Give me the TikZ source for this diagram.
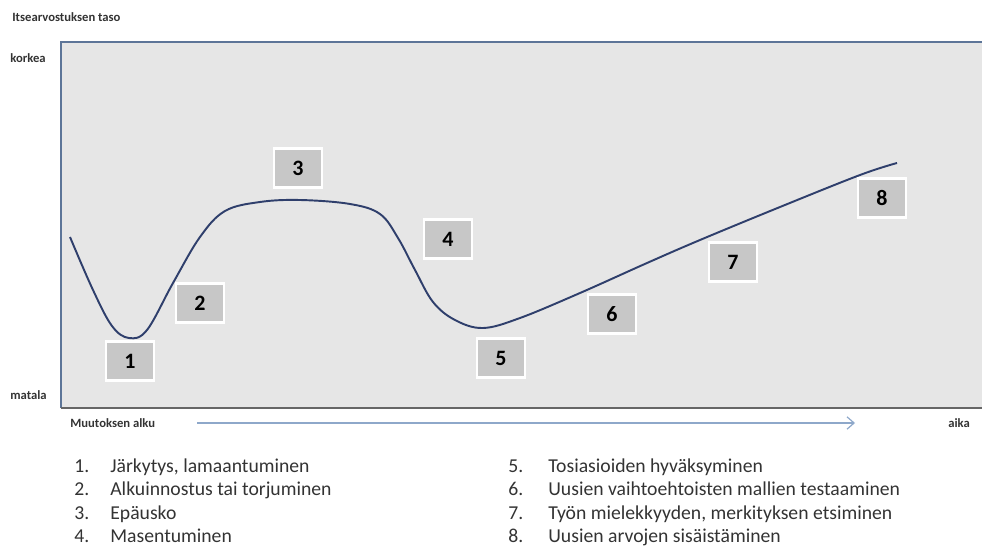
\documentclass[tikz,border=0pt]{standalone}
\usepackage{fontspec}
\setmainfont{Carlito}
\usepackage{xcolor}
\usetikzlibrary{arrows.meta}
\definecolor{panelgray}{HTML}{E6E6E6}
\definecolor{framblue}{HTML}{5D7598}
\definecolor{curveblue}{HTML}{2F3F6C}
\definecolor{boxgray}{HTML}{C7C7C7}
\definecolor{arrowblue}{HTML}{8EA8CA}
\definecolor{textgray}{HTML}{333333}

\begin{document}
\begin{tikzpicture}[x=0.02cm,y=-0.02cm,
    numbox/.style={fill=boxgray, draw=white, line width=1.2pt,
      inner sep=0pt, minimum width=0.96cm, minimum height=0.78cm,
      font=\fontsize{12.5}{14}\selectfont\bfseries},
    axislabel/.style={font=\fontsize{7.2}{8}\selectfont\bfseries, text=textgray, inner sep=0pt},
    legend/.style={font=\fontsize{11.2}{12}\selectfont, text=textgray, anchor=base west, inner sep=0pt}]
    \useasboundingbox (0,0) rectangle (982,547);
    % panel
    \fill[panelgray] (61,42) rectangle (982,408);
    \draw[framblue, line width=1.6pt] (982,42) -- (61,42) -- (61,408);
    \draw[gray!80!black, line width=1.6pt] (61,408) -- (982,408);
    % curve
    \draw[curveblue, line width=1.1pt] plot[smooth, tension=0.6] coordinates {
      (70,237) (93,290) (112,326) (129,338) (147,330) (173,283) (200,237)
      (225,211) (260,202) (300,200) (350,204) (380,214) (398,238)
      (415,270) (433,302) (455,320) (483,328) (520,318) (580,293)
      (647,263) (700,240) (780,207) (860,175) (897,163)};
    % numbered stages
    \node[numbox] (s1) at (130,361) {1};
    \node[numbox] (s2) at (200,303) {2};
    \node[numbox] (s3) at (298,168) {3};
    \node[numbox] (s4) at (448,239) {4};
    \node[numbox] (s5) at (501,358) {5};
    \node[numbox] (s6) at (612,314) {6};
    \node[numbox] (s7) at (733,262) {7};
    \node[numbox] (s8) at (882,198) {8};
    % axis texts
    \node[axislabel, anchor=west] (taso) at (12,17) {Itsearvostuksen taso};
    \node[axislabel, anchor=west] (korkea) at (10,58) {korkea};
    \node[axislabel, anchor=west] (matala) at (10,395) {matala};
    \node[axislabel, anchor=west] (alku) at (70,423) {Muutoksen alku};
    \node[axislabel, anchor=west] (aika) at (948,423) {aika};
    \coordinate (tstart) at (197,423);
    \coordinate (tend) at (855,423);
    \draw[arrowblue, line width=0.7pt, -{Straight Barb[length=4pt,width=7pt]}] (tstart) -- (tend);
    % legend
    \node[legend] (n1) at (74,472) {1.};
    \node[legend] (l1) at (110,472) {Järkytys, lamaantuminen};
    \node[legend] (n2) at (74,495.5) {2.};
    \node[legend] (l2) at (110,495.5) {Alkuinnostus tai torjuminen};
    \node[legend] (n3) at (74,519) {3.};
    \node[legend] (l3) at (110,519) {Epäusko};
    \node[legend] (n4) at (74,542.5) {4.};
    \node[legend] (l4) at (110,542.5) {Masentuminen};
    \node[legend] (n5) at (508,472) {5.};
    \node[legend] (l5) at (548,472) {Tosiasioiden hyväksyminen};
    \node[legend] (n6) at (508,495.5) {6.};
    \node[legend] (l6) at (548,495.5) {Uusien vaihtoehtoisten mallien testaaminen};
    \node[legend] (n7) at (508,519) {7.};
    \node[legend] (l7) at (548,519) {Työn mielekkyyden, merkityksen etsiminen};
    \node[legend] (n8) at (508,542.5) {8.};
    \node[legend] (l8) at (548,542.5) {Uusien arvojen sisäistäminen};
\end{tikzpicture}
\end{document}
